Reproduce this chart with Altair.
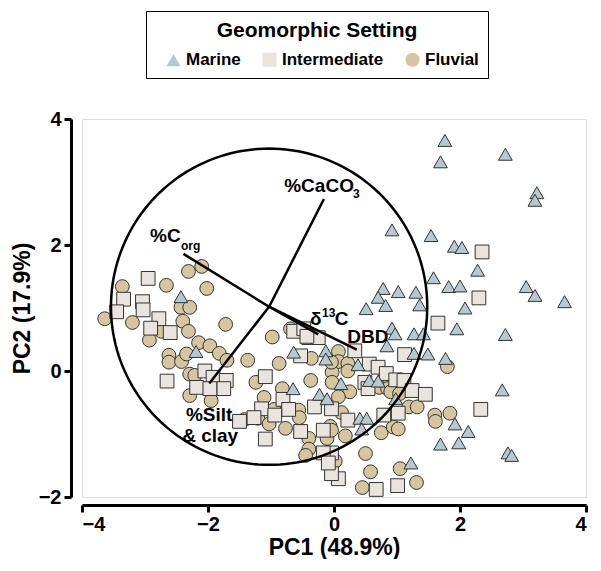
import altair as alt
import numpy as np
import pandas as pd

FONT = "Liberation Sans"

# ---- scores ----
marine_x = [1.76, 1.69, 2.72, 3.22, 3.19, 0.92, 1.54, 1.91, 2.03, 2.28, 1.58, 0.78, 1.02, 1.30, 0.70,
            1.82, 2.00, 3.05, 3.19, 3.66, 0.82, 1.36, 0.51, 2.08, 1.95, 2.72, 0.92, 0.97, 1.27, 1.42,
            0.84, 1.27, 1.49, 1.77, 0.38, 0.56, 0.70, 0.98, 0.11, 0.41, 0.52, 0.44, 1.92, 2.13, 1.69,
            1.98, 2.67, 2.76, 2.82, 1.22, -2.43, -2.19, -0.64, -0.65, -0.23, -0.11, -0.13, -0.13]
marine_y = [3.66, 3.32, 3.44, 2.83, 2.71, 2.24, 2.15, 1.98, 1.96, 1.60, 1.48, 1.31, 1.26, 1.25, 1.17,
            1.34, 1.35, 1.34, 1.20, 1.10, 1.04, 1.05, 0.99, 1.00, 0.67, 0.58, 0.68, 0.59, 0.59, 0.59,
            0.40, 0.28, 0.27, 0.20, 0.10, -0.15, -0.16, -0.44, -0.20, -0.75, -0.75, -0.92, -0.84, -0.96, -1.16,
            -1.14, -0.30, -1.30, -1.34, -1.46, 1.18, 0.31, 0.30, -0.28, -0.37, -0.44, 0.32, 0.19]

inter_x = [2.35, 2.30, 1.65, 1.12, 0.33, 0.56, 0.70, 0.83, 0.98, 1.11, 1.24, 1.45, 0.49, 0.54, 1.02,
           0.79, -0.04, 2.33, 0.67, 1.01, 0.07, -0.04, -0.04, -2.95, -3.34, -3.04, -3.03, -3.45, -2.78, -2.91,
           -2.60, -2.65, -2.05, -1.92, -1.71, -1.75, -2.18, -1.97, -1.09, -0.53, -0.40, -0.25, -0.64, -0.81, -1.15,
           -0.72, -0.31, -0.94, -1.50, -1.27, -0.53, -1.09, -0.17, -0.09, -0.48, -0.43, 0.22, -0.17]
inter_y = [1.89, 1.16, 0.76, 0.26, 0.32, 0.11, 0.06, -0.04, -0.14, -0.15, -0.31, -0.37, -0.18, -0.28, -0.67,
           -0.70, -0.60, -0.61, -1.88, -1.82, -1.71, -1.63, -1.30, 1.47, 1.14, 1.10, 0.97, 0.94, 0.83, 0.68,
           0.61, -0.16, 0.00, -0.10, -0.15, -0.28, -0.26, -0.28, -0.09, 0.24, 0.53, 0.53, 0.63, -0.45, -0.60,
           -0.61, -0.57, -0.70, -0.80, -0.74, -0.96, -1.08, -1.30, -1.46, 0.67, 0.55, -0.78, -0.94]

fluv_x = [1.80, 0.07, 0.07, 0.22, 0.22, -0.03, -0.03, 0.80, 0.72, 0.85, 0.90, 1.04, 0.25, 0.07, 1.19,
          1.32, 1.60, 1.61, 1.84, 0.75, 0.94, 1.02, 0.18, -0.06, -0.11, 0.50, 0.58, 1.05, 1.31, 0.45,
          0.02, -2.10, -2.31, -2.66, -2.02, -3.36, -3.64, -3.20, -2.93, -2.74, -2.43, -2.29, -2.40, -2.31, -1.72,
          -2.15, -1.97, -1.82, -1.70, -2.62, -2.62, -2.42, -2.34, -1.37, -0.98, -0.87, -0.37, -1.24, -2.29, -2.21,
          -2.29, -1.95, -1.42, -1.21, -1.03, -0.95, -1.11, -0.82, -0.56, -0.55, -0.77, -0.40, -0.40, -0.45, -0.04,
          -0.69, -0.36, -0.04, 0.12]
fluv_y = [0.07, 0.31, 0.15, 0.12, 0.00, -0.02, -0.18, -0.13, -0.26, -0.28, -0.33, -0.36, -0.33, -0.41, -0.57,
          -0.57, -0.70, -0.80, -0.67, -0.98, -0.89, -0.92, -1.03, -0.88, -1.07, -1.31, -1.60, -1.55, -1.77, -1.85,
          -1.43, 1.66, 1.58, 1.36, 1.31, 1.34, 0.83, 0.77, 0.49, 0.63, 1.01, 1.01, 0.79, 0.63, 0.74,
          0.45, 0.40, 0.28, 0.17, 0.25, 0.14, 0.15, 0.27, 0.17, 0.54, 0.12, -0.15, -0.18, -0.05, -0.07,
          -0.39, -0.47, -0.77, -0.75, -0.84, -0.61, -0.42, -0.28, -0.62, -0.74, -0.91, -1.07, -1.24, -1.34, -0.94,
          0.67, 0.20, 0.14, -0.66]

settings = ["Marine", "Intermediate", "Fluvial"]
fills = ["#B6C9D0", "#E9E5DE", "#D6C6A0"]
shapes = ["triangle-up", "square", "circle"]

# ---- loadings (vectors) ----
vec_center = (-1.03, 1.02)
circle_radius = 2.51
load_names = ["%Corg", "%CaCO3", "%Silt & clay", "d13C", "DBD"]
load_x = [-2.39, -0.16, -1.98, -0.25, 0.36]
load_y = [1.86, 2.73, -0.20, 0.58, 0.34]

# ---- label texts ----
big_text = ["%CaCO", "%C", "δ", "C", "DBD", "%Silt", "& clay"]
big_x = [-0.79, -2.92, -0.38, 0.01, 0.21, -2.35, -2.41]
big_y = [2.94, 2.15, 0.82, 0.82, 0.54, -0.70, -1.03]
small_text = ["3", "org", "13"]
small_x = [0.30, -2.43, -0.19]
small_y = [2.81, 1.98, 0.92]

pts = pd.concat([
    pd.DataFrame({"x": fluv_x, "y": fluv_y, "Setting": "Fluvial"}),
    pd.DataFrame({"x": inter_x, "y": inter_y, "Setting": "Intermediate"}),
    pd.DataFrame({"x": marine_x, "y": marine_y, "Setting": "Marine"}),
], ignore_index=True)

vec = pd.DataFrame({"name": load_names, "x0": vec_center[0], "y0": vec_center[1],
                    "x1": load_x, "y1": load_y})

ang = np.linspace(0, 2 * np.pi, 181)
circ = pd.DataFrame({"i": np.arange(len(ang)),
                     "x": vec_center[0] + circle_radius * np.cos(ang),
                     "y": vec_center[1] + circle_radius * np.sin(ang)})

big_df = pd.DataFrame({"t": big_text, "x": big_x, "y": big_y})
small_df = pd.DataFrame({"t": small_text, "x": small_x, "y": small_y})

xscale = alt.Scale(domain=[-4, 4], nice=False, zero=False)
yscale = alt.Scale(domain=[-2, 4], nice=False, zero=False)

axis_common = dict(domainWidth=3, domainColor="black", tickWidth=3, tickColor="black", tickSize=7,
                   labelFontSize=20, labelFontWeight="bold", labelFont=FONT, labelColor="black",
                   titleFontSize=23, titleFont=FONT, titleFontWeight="bold", titleColor="black",
                   grid=False, format="d")

xax = alt.Axis(values=[-4, -2, 0, 2, 4], title="PC1 (48.9%)", offset=8, labelPadding=2,
               titlePadding=2, **axis_common)
yax = alt.Axis(values=[-2, 0, 2, 4], title="PC2 (17.9%)", offset=11, labelPadding=3,
               titlePadding=4, **axis_common)

legend = alt.Legend(title="Geomorphic Setting", orient="none", legendX=64, legendY=-108,
                    direction="horizontal", titleAnchor="middle", titleFontSize=21,
                    titleFont=FONT, titleFontWeight="bold", titleColor="black", titlePadding=10,
                    titleLimit=500, labelLimit=300,
                    labelFontSize=17, labelFont=FONT, labelFontWeight="bold", labelColor="black",
                    symbolSize=200, symbolStrokeColor="#333333", symbolStrokeWidth=1,
                    symbolOffset=10, labelOffset=4, columnPadding=10, padding=9,
                    strokeColor="black")

points = alt.Chart(pts).mark_point(filled=True, size=190, stroke="#333333", strokeWidth=1,
                                   opacity=1).encode(
    x=alt.X("x:Q", scale=xscale, axis=xax),
    y=alt.Y("y:Q", scale=yscale, axis=yax),
    shape=alt.Shape("Setting:N", scale=alt.Scale(domain=settings, range=shapes), legend=legend),
    fill=alt.Fill("Setting:N", scale=alt.Scale(domain=settings, range=fills), legend=legend),
)

circle = alt.Chart(circ).mark_line(color="black", strokeWidth=2.5).encode(
    x="x:Q", y="y:Q", order="i:Q")

vectors = alt.Chart(vec).mark_rule(color="black", strokeWidth=2.5).encode(
    x="x0:Q", y="y0:Q", x2="x1:Q", y2="y1:Q")

big_labels = alt.Chart(big_df).mark_text(align="left", baseline="middle", font=FONT,
                                         fontWeight="bold", fontSize=19, color="black").encode(
    x="x:Q", y="y:Q", text="t:N")
small_labels = alt.Chart(small_df).mark_text(align="left", baseline="middle", font=FONT,
                                             fontWeight="bold", fontSize=12, color="black").encode(
    x="x:Q", y="y:Q", text="t:N")

chart = alt.layer(points, circle, vectors, big_labels, small_labels).properties(
    width=504, height=378,
    autosize=alt.AutoSizeParams(type="none"),
    padding={"left": 74, "top": 111, "right": 7, "bottom": 62},
).configure_view(strokeWidth=0).configure(background="white")

chart.save("out.html", embed_options={"renderer": "svg", "actions": False})
